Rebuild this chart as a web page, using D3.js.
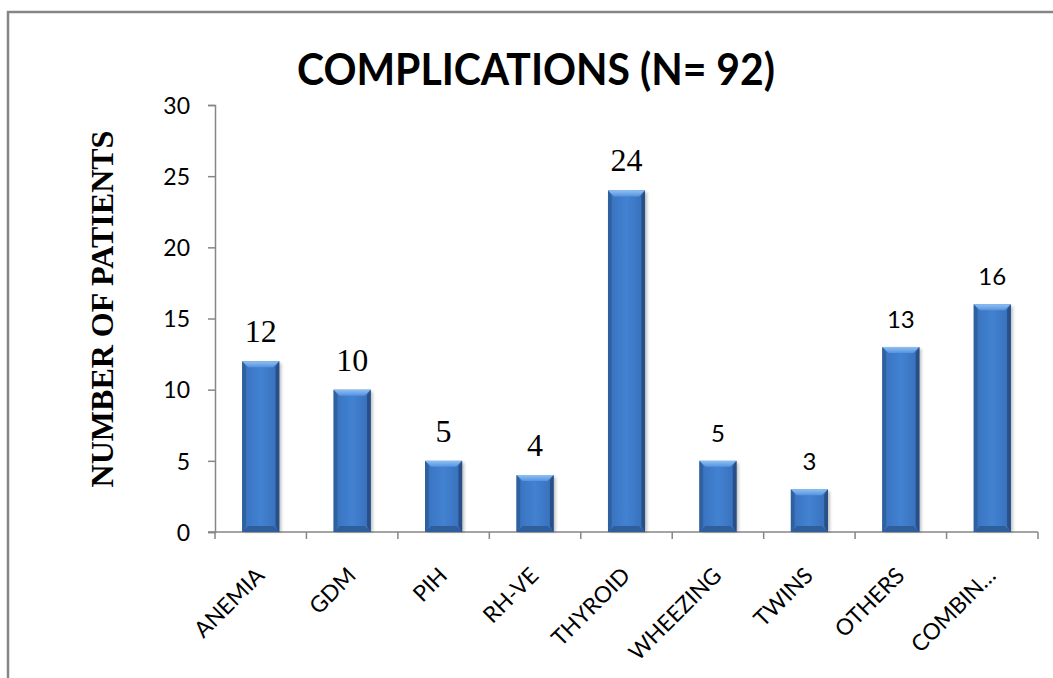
<!DOCTYPE html>
<html>
<head>
<meta charset="utf-8">
<script src="https://cdn.jsdelivr.net/npm/d3@7"></script>
<style>
  html, body { margin: 0; padding: 0; background: #fff; overflow: hidden; }
  svg { display: block; }
</style>
</head>
<body>
<div id="chart"></div>
<script>
// chart values
const categories = ["ANEMIA", "GDM", "PIH", "RH-VE", "THYROID", "WHEEZING", "TWINS", "OTHERS", "COMBIN\u2026"];
const patients = [12, 10, 5, 4, 24, 5, 3, 13, 16];
const yTicks = [0, 5, 10, 15, 20, 25, 30];
const title = "COMPLICATIONS (N= 92)";
const yTitle = "NUMBER OF PATIENTS";

const W = 1053, H = 678;
const margin = { left: 215, right: 1038, top: 105, bottom: 532 };
const sans = "Lato, Carlito, 'Open Sans', sans-serif";
const serif = "'Liberation Serif', 'Times New Roman', serif";
const axisColor = "#868686";

const svg = d3.select("#chart").append("svg")
  .attr("width", W)
  .attr("height", H);

const defs = svg.append("defs");

// body gradient, darker at the sides
const body = defs.append("linearGradient").attr("id", "barBody")
  .attr("x1", 0).attr("x2", 1).attr("y1", 0).attr("y2", 0);
[["0%", "#2c5a98"], ["12%", "#3a75c2"], ["50%", "#4282d1"], ["88%", "#3a73bf"], ["100%", "#2a548e"]]
  .forEach(s => body.append("stop").attr("offset", s[0]).attr("stop-color", s[1]));

const topG = defs.append("linearGradient").attr("id", "barTop")
  .attr("x1", 0).attr("x2", 0).attr("y1", 0).attr("y2", 1);
[["0%", "#90c0f4"], ["100%", "#5593de"]]
  .forEach(s => topG.append("stop").attr("offset", s[0]).attr("stop-color", s[1]));

const shadow = defs.append("filter").attr("id", "shadow")
  .attr("x", "-50%").attr("y", "-10%").attr("width", "200%").attr("height", "120%");
shadow.append("feGaussianBlur").attr("stdDeviation", 1.5);

// outer frame (only the top and left edges fall inside the picture)
svg.append("rect")
  .attr("x", 8).attr("y", 12)
  .attr("width", 1200).attr("height", 800)
  .attr("fill", "none")
  .attr("stroke", axisColor)
  .attr("stroke-width", 2.5);

const x = d3.scaleBand()
  .domain(categories)
  .range([margin.left, margin.right])
  .padding(0);

const y = d3.scaleLinear()
  .domain([0, 30])
  .range([margin.bottom, margin.top]);

// y axis
const yAxis = svg.append("g")
  .attr("transform", `translate(${margin.left},0)`)
  .call(d3.axisLeft(y).tickValues(yTicks).tickSize(7).tickPadding(18));
yAxis.select(".domain").attr("stroke", axisColor).attr("stroke-width", 1.5);
yAxis.selectAll(".tick line").attr("stroke", axisColor).attr("stroke-width", 1.5);
yAxis.selectAll(".tick text")
  .attr("fill", "#000")
  .attr("dy", "0.36em")
  .style("font-family", sans)
  .style("font-size", "23px");

// x axis, ticks at category boundaries
const xAxis = svg.append("g");
xAxis.append("line")
  .attr("x1", margin.left - 7).attr("x2", margin.right)
  .attr("y1", y(0)).attr("y2", y(0))
  .attr("stroke", axisColor).attr("stroke-width", 1.5);
const bounds = categories.map(c => x(c)).concat([x(categories[categories.length - 1]) + x.bandwidth()]);
xAxis.selectAll("line.xt")
  .data(bounds)
  .enter().append("line")
  .attr("class", "xt")
  .attr("x1", d => d).attr("x2", d => d)
  .attr("y1", y(0)).attr("y2", y(0) + 7)
  .attr("stroke", axisColor).attr("stroke-width", 1.5);

xAxis.selectAll("text")
  .data(categories)
  .enter().append("text")
  .attr("transform", d => `translate(${x(d) + x.bandwidth() / 2 + 5},${y(0) + 45}) rotate(-45)`)
  .attr("text-anchor", "end")
  .style("font-family", sans)
  .style("font-size", "22.5px")
  .attr("fill", "#000")
  .text(d => d);

// bars
const barW = x.bandwidth() * 0.405;
const bev = 6;
const bars = svg.selectAll("g.bar")
  .data(categories.map((c, i) => ({ c, v: patients[i], i })))
  .enter().append("g")
  .attr("class", "bar");

bars.each(function (d) {
  const g = d3.select(this);
  const x0 = x(d.c) + (x.bandwidth() - barW) / 2;
  const x1 = x0 + barW;
  const t = y(d.v), b = y(0);

  g.append("rect")
    .attr("x", x0 + 2).attr("y", t + 2)
    .attr("width", barW).attr("height", b - t - 2)
    .attr("fill", "rgba(0,0,0,0.25)")
    .attr("filter", "url(#shadow)");

  g.append("rect")
    .attr("x", x0).attr("y", t)
    .attr("width", barW).attr("height", b - t)
    .attr("fill", "url(#barBody)");

  // side bevels
  g.append("polygon")
    .attr("points", [[x0, t], [x0 + bev * 0.6, t + bev], [x0 + bev * 0.6, b - bev], [x0, b]].join(" "))
    .attr("fill", "#2f609f");
  g.append("polygon")
    .attr("points", [[x1, t], [x1 - bev * 0.6, t + bev], [x1 - bev * 0.6, b - bev], [x1, b]].join(" "))
    .attr("fill", "#284f88");
  // bottom bevel
  g.append("polygon")
    .attr("points", [[x0, b], [x1, b], [x1 - bev, b - bev], [x0 + bev, b - bev]].join(" "))
    .attr("fill", "#2f5e9c");
  // top bevel
  g.append("polygon")
    .attr("points", [[x0, t], [x1, t], [x1 - bev, t + bev], [x0 + bev, t + bev]].join(" "))
    .attr("fill", "url(#barTop)");
});

// value labels: first five in serif, the rest in sans
bars.append("text")
  .attr("x", d => x(d.c) + x.bandwidth() / 2)
  .attr("y", d => y(d.v) - 19)
  .attr("text-anchor", "middle")
  .attr("fill", "#000")
  .style("font-family", d => d.i < 5 ? serif : sans)
  .style("font-size", d => d.i < 5 ? "32px" : "24px")
  .text(d => d.v);

// y axis title
svg.append("text")
  .attr("transform", "translate(113,309) rotate(-90)")
  .attr("text-anchor", "middle")
  .style("font-family", serif)
  .style("font-weight", "bold")
  .style("font-size", "32px")
  .attr("fill", "#000")
  .text(yTitle);

// chart title, fitted to the width it takes in the picture
svg.append("text")
  .attr("x", 536)
  .attr("y", 85)
  .attr("text-anchor", "middle")
  .style("font-family", sans)
  .style("font-weight", "bold")
  .style("font-size", "44px")
  .attr("fill", "#000")
  .attr("textLength", 478)
  .attr("lengthAdjust", "spacingAndGlyphs")
  .text(title);
</script>
</body>
</html>
